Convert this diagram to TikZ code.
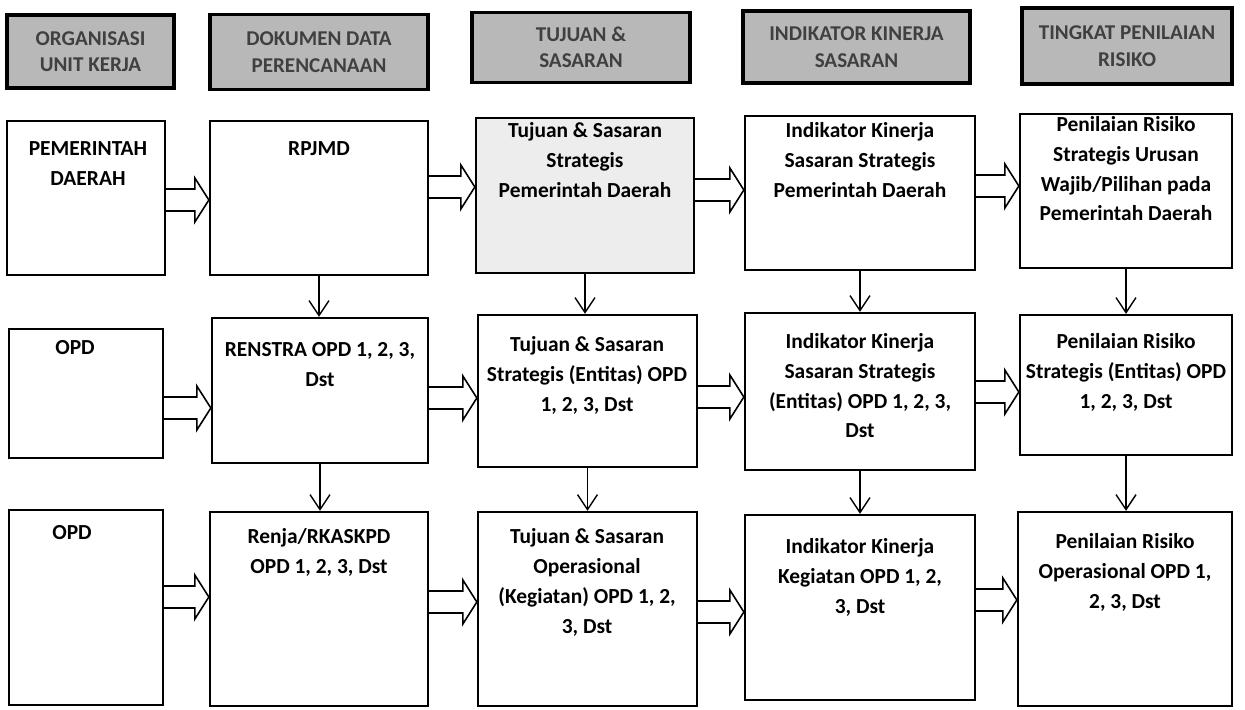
\documentclass[tikz,border=0pt]{standalone}
\usepackage{fontspec}
\setmainfont{Carlito}
\usetikzlibrary{calc,arrows.meta}

% block arrow from box #1 to box #2 at height #3
\newcommand{\fatarrow}[3]{%
  \draw[fat] ($(#1.east |- 0,#3)+(0,-11)$) -- ($(#2.west |- 0,#3)+(-14,-11)$) -- ++(0,-11)
    -- (#2.west |- 0,#3) -- ++(-14,22) -- ++(0,-11) -- ($(#1.east |- 0,#3)+(0,11)$);}

\begin{document}
\begin{tikzpicture}[x=0.02cm,y=-0.02cm,
  box/.style={draw, line width=1.3pt, inner sep=0pt},
  cell/.style 2 args={box, minimum width=#1*0.02cm, minimum height=#2*0.02cm},
  head/.style 2 args={cell={#1}{#2}, line width=2.2pt, fill=black!28, text=black!75,
    font=\bfseries\fontsize{12}{15}\selectfont, align=center},
  txt/.style={anchor=north, inner sep=0pt, align=center,
    font=\bfseries\fontsize{12.2}{17}\selectfont},
  fat/.style={line width=0.9pt, line join=miter},
  down/.style={line width=0.8pt, -{Straight Barb[length=3mm,width=4mm,line width=0.8pt]}}]
\useasboundingbox (0,0) rectangle (1245,710);

% headers
\node[head={167}{73}] (h1) at (90.5,51.5) {ORGANISASI\\UNIT KERJA};
\node[head={218}{75}] (h2) at (319,52) {DOKUMEN DATA\\PERENCANAAN};
\node[head={218}{70}] (h3) at (581,47.5) {TUJUAN \&\\SASARAN};
\node[head={227}{72}] (h4) at (856.5,47) {INDIKATOR KINERJA\\SASARAN};
\node[head={210}{76}] (h5) at (1127,46) {TINGKAT PENILAIAN\\RISIKO};

% row 1
\node[cell={158}{154}] (pd) at (86,198) {};
\node[cell={218}{154}] (rpjmd) at (319,198) {};
\node[cell={218}{155}, fill=black!7] (tsPemda) at (585,195.5) {};
\node[cell={230}{154}] (ikPemda) at (860,193) {};
\node[cell={212}{154}] (prPemda) at (1126,191) {};

\node[txt] (pdText) at (88,141) {PEMERINTAH\\DAERAH};
\node[txt] (rpjmdText) at (319,141) {RPJMD};
\node[txt] (tsPemdaText) at (585,122) {Tujuan \& Sasaran\\Strategis\\Pemerintah Daerah};
\node[txt] (ikPemdaText) at (860,122) {Indikator Kinerja\\Sasaran Strategis\\Pemerintah Daerah};
\node[txt] (prPemdaText) at (1126,116) {Penilaian Risiko\\Strategis Urusan\\Wajib/Pilihan pada\\Pemerintah Daerah};

% row 2
\node[cell={154}{129}] (opdA) at (86,393.5) {};
\node[cell={216}{145}] (renstra) at (320,390.5) {};
\node[cell={219}{152}] (tsOpd) at (587.5,391) {};
\node[cell={230}{157}] (ikOpd) at (860,391.5) {};
\node[cell={212}{140}] (prOpd) at (1126,385) {};

\node[txt] (opdAText) at (75,340) {OPD};
\node[txt] (renstraText) at (320,342) {RENSTRA OPD 1, 2, 3,\\Dst};
\node[txt] (tsOpdText) at (587,336) {Tujuan \& Sasaran\\Strategis (Entitas) OPD\\1, 2, 3, Dst};
\node[txt] (ikOpdText) at (860,333) {Indikator Kinerja\\Sasaran Strategis\\(Entitas) OPD 1, 2, 3,\\Dst};
\node[txt] (prOpdText) at (1126,333) {Penilaian Risiko\\Strategis (Entitas) OPD\\1, 2, 3, Dst};

% row 3
\node[cell={154}{195}] (opdB) at (86,607.5) {};
\node[cell={218}{194}] (renja) at (319,609) {};
\node[cell={219}{194}] (tsKeg) at (587.5,609) {};
\node[cell={230}{185}] (ikKeg) at (860,607.5) {};
\node[cell={214}{194}] (prKeg) at (1125,609) {};

\node[txt] (opdBText) at (72,525) {OPD};
\node[txt] (renjaText) at (319,528) {Renja/RKASKPD\\OPD 1, 2, 3, Dst};
\node[txt] (tsKegText) at (587,528) {Tujuan \& Sasaran\\Operasional\\(Kegiatan) OPD 1, 2,\\3, Dst};
\node[txt] (ikKegText) at (860,538) {Indikator Kinerja\\Kegiatan OPD 1, 2,\\3, Dst};
\node[txt] (prKegText) at (1125,533) {Penilaian Risiko\\Operasional OPD 1,\\2, 3, Dst};

% block arrows
\foreach \a/\b/\y in {pd/rpjmd/200, rpjmd/tsPemda/187, tsPemda/ikPemda/190, ikPemda/prPemda/186,
    opdA/renstra/408, renstra/tsOpd/398, tsOpd/ikOpd/397, ikOpd/prOpd/392,
    opdB/renja/597, renja/tsKeg/602, tsKeg/ikKeg/612, ikKeg/prKeg/600}
  {\fatarrow{\a}{\b}{\y}}

% down arrows
\foreach \a/\b in {rpjmd/renstra, renstra/renja, tsPemda/tsOpd, tsOpd/tsKeg,
    ikPemda/ikOpd, ikOpd/ikKeg, prPemda/prOpd, prOpd/prKeg}
  \draw[down] (\a.south) -- (\a.south |- \b.north);
\end{tikzpicture}
\end{document}
